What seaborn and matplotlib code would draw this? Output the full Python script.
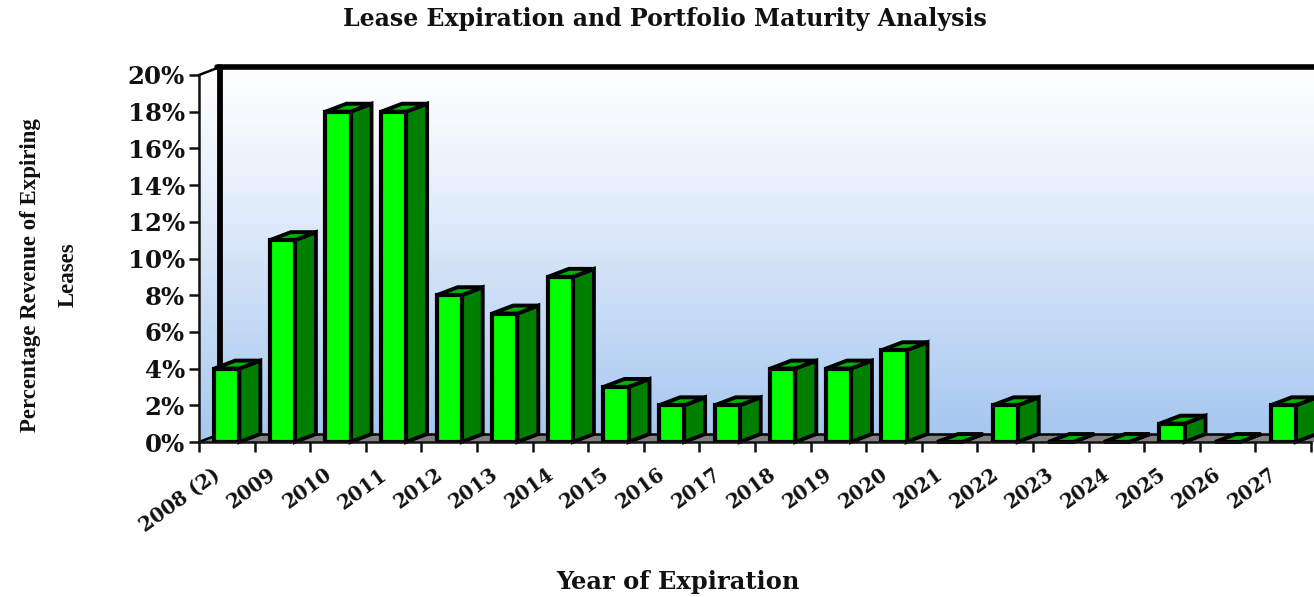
import numpy as np
import pandas as pd
import matplotlib
matplotlib.use("Agg")
import matplotlib.pyplot as plt
from matplotlib.patches import Polygon
from matplotlib.lines import Line2D
from matplotlib.transforms import IdentityTransform, ScaledTranslation
import seaborn as sns

years = ["2008 (2)", "2009", "2010", "2011", "2012", "2013", "2014", "2015", "2016", "2017",
         "2018", "2019", "2020", "2021", "2022", "2023", "2024", "2025", "2026", "2027"]
expiring = [4, 11, 18, 18, 8, 7, 9, 3, 2, 2, 4, 4, 5, 0, 2, 0, 0, 1, 0, 2]
percent_ticks = list(range(0, 21, 2))

title_text = "Lease Expiration and Portfolio Maturity Analysis"
xlabel_text = "Year of Expiration"
ylabel_text = "Percentage Revenue of Expiring\nLeases"

W, H = 1314, 597
DEPTH_X, DEPTH_Y = 21, 8
FACE, SIDE, TOP = "#00FF00", "#007F00", "#00B400"

sns.set_theme(style="white")
plt.rcParams["font.family"] = ["DejaVu Serif"]

fig = plt.figure(figsize=(W / 100, H / 100), dpi=100, facecolor="white")

# Pixel-addressed layer holding the walls and floor of the 3D box
bg = fig.add_axes([0, 0, 1, 1], zorder=0)
bg.set_xlim(0, W)
bg.set_ylim(0, H)
bg.axis("off")

ax = fig.add_axes([199 / W, (H - 442) / H, (1311 - 199) / W, (442 - 75) / H], zorder=1)
ax.patch.set_visible(False)

df = pd.DataFrame({"year": years, "share": expiring})
sns.barplot(data=df, x="year", y="share", color=FACE, width=0.45, saturation=1,
            edgecolor="black", linewidth=3.0, ax=ax, zorder=3)
ax.set_xlim(-0.5, len(years) - 0.5)
ax.set_ylim(0, 20)

x0, y0 = ax.transData.transform((-0.5, 0))
x1, y1 = ax.transData.transform((len(years) - 0.5, 20))
right = W + 5

# Back wall and left wall share one vertical gradient
top_col = np.array([1.0, 1.0, 1.0])
bot_col = np.array([0.65, 0.78, 0.94])
ramp = np.linspace(0, 1, 256)[:, None, None] ** 1.15
grad = top_col[None, None, :] * (1 - ramp) + bot_col[None, None, :] * ramp

back = bg.imshow(grad, extent=(x0 + DEPTH_X, right, y0 + DEPTH_Y, y1 + DEPTH_Y),
                 aspect="auto", zorder=1)
back.set_clip_on(True)
side_wall = bg.imshow(grad, extent=(x0, x0 + DEPTH_X, y0, y1 + DEPTH_Y), aspect="auto", zorder=1)
side_clip = Polygon([(x0, y0), (x0 + DEPTH_X, y0 + DEPTH_Y), (x0 + DEPTH_X, y1 + DEPTH_Y), (x0, y1)],
                    transform=bg.transData)
side_wall.set_clip_path(side_clip)
bg.set_xlim(0, W)
bg.set_ylim(0, H)

# Floor
bg.add_patch(Polygon([(x0, y0), (x0 + DEPTH_X, y0 + DEPTH_Y), (right, y0 + DEPTH_Y), (right, y0)],
                     closed=True, facecolor="#808080", edgecolor="none", zorder=2))
bg.add_line(Line2D([x0 + DEPTH_X, right], [y0 + DEPTH_Y, y0 + DEPTH_Y], color="black", lw=1.8, zorder=3))
bg.add_line(Line2D([x0, x0 + DEPTH_X], [y0, y0 + DEPTH_Y], color="black", lw=1.8, zorder=3))

# Heavy frame of the back wall
bg.add_line(Line2D([x0 + DEPTH_X, x0 + DEPTH_X], [y0 + DEPTH_Y, y1 + DEPTH_Y], color="black", lw=4.2, zorder=3))
bg.add_line(Line2D([x0 + DEPTH_X - 3, right], [y1 + DEPTH_Y, y1 + DEPTH_Y], color="black", lw=4.0, zorder=3))
bg.add_line(Line2D([x0, x0 + DEPTH_X], [y1, y1 + DEPTH_Y], color="black", lw=1.8, zorder=3))

# Extrude every bar into the depth of the box
for bar in ax.patches[:len(years)]:
    (bx0, by0), (bx1, by1) = ax.transData.transform(bar.get_bbox().get_points())
    side = [(bx1, by0), (bx1 + DEPTH_X, by0 + DEPTH_Y), (bx1 + DEPTH_X, by1 + DEPTH_Y), (bx1, by1)]
    lid = [(bx0, by1), (bx0 + DEPTH_X, by1 + DEPTH_Y), (bx1 + DEPTH_X, by1 + DEPTH_Y), (bx1, by1)]
    for verts, colour in ((side, SIDE), (lid, TOP)):
        ax.add_patch(Polygon(verts, closed=True, facecolor=colour, edgecolor="black", linewidth=2.8,
                             joinstyle="miter", transform=IdentityTransform(), clip_on=False, zorder=2.5))

for name in ("top", "right"):
    ax.spines[name].set_visible(False)
for name in ("left", "bottom"):
    ax.spines[name].set_visible(True)
    ax.spines[name].set_color("#111111")
    ax.spines[name].set_linewidth(1.8)
    ax.spines[name].set_zorder(4)

ax.set_yticks(percent_ticks)
ax.set_yticklabels([f"{v}%" for v in percent_ticks], fontsize=17.6, fontweight="bold", color="#111111",
                   family="DejaVu Serif")
ax.set_xticks(np.arange(-0.5, len(years) + 0.5))
ax.set_xticklabels(years + [""], rotation=36, ha="right", va="top", rotation_mode="anchor",
                   fontsize=14.2, fontweight="bold", color="#111111", family="DejaVu Serif")
ax.tick_params(axis="both", which="major", length=7, width=1.8, color="#111111", bottom=True, left=True)
ax.tick_params(axis="y", pad=3)
ax.tick_params(axis="x", pad=9)
shift = ScaledTranslation(13 / 100, 0, fig.dpi_scale_trans)
for tick_label in ax.get_xticklabels():
    tick_label.set_transform(tick_label.get_transform() + shift)
ax.set_xlabel("")
ax.set_ylabel("")

fig.text(665 / W, (H - 19) / H, title_text, ha="center", va="center", fontsize=17,
         fontweight="bold", color="#111111", family="DejaVu Serif")
fig.text(678 / W, (H - 582) / H, xlabel_text, ha="center", va="center", fontsize=17.4,
         fontweight="bold", color="#111111", family="DejaVu Serif")
fig.text(49 / W, (H - 275) / H, ylabel_text, ha="center", va="center", rotation=90,
         multialignment="center", fontsize=16.5, fontweight="bold", color="#111111",
         family="Liberation Serif", linespacing=2.05)

fig.savefig("out.png", dpi=100, facecolor="white")
